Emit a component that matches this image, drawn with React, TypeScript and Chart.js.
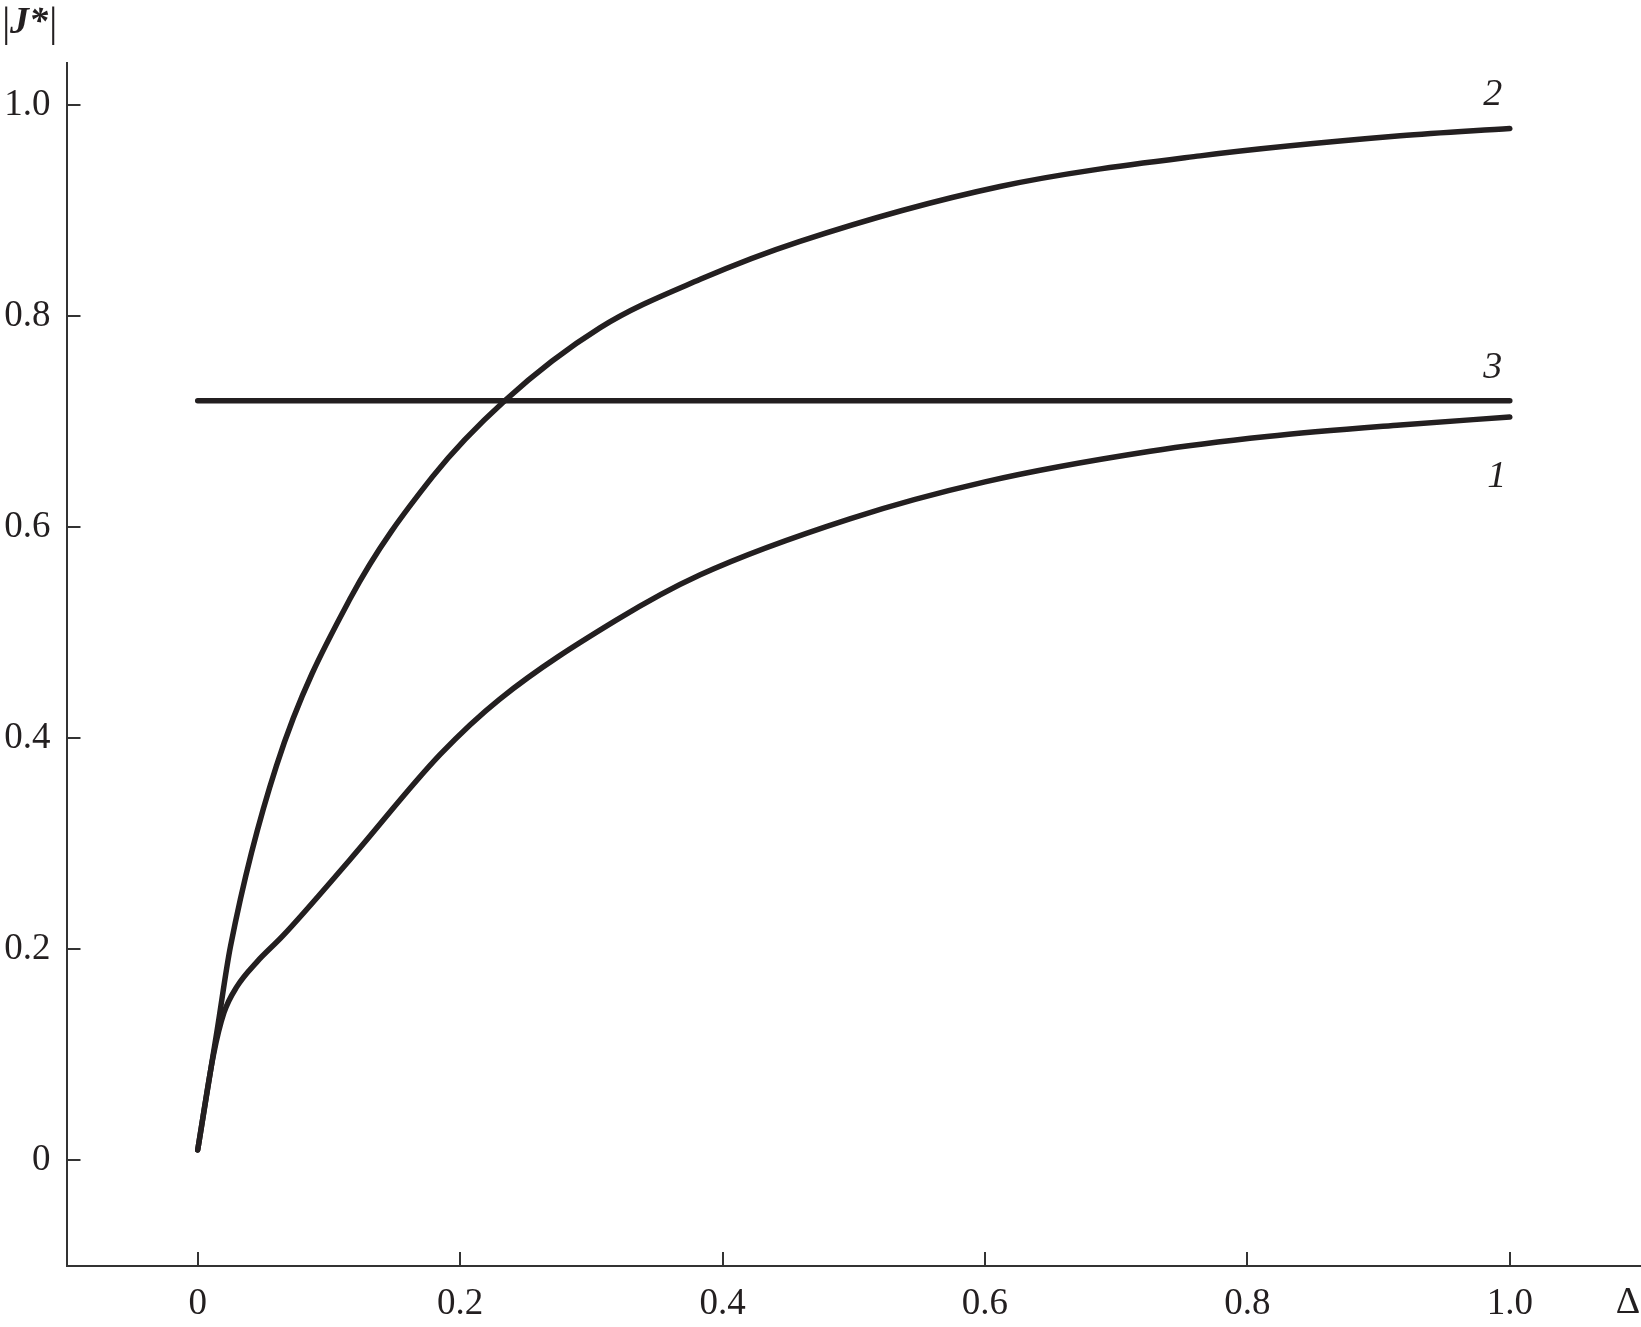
import React, { useEffect, useRef } from "react";
import { Chart, registerables } from "chart.js";

Chart.register(...registerables);

// ---- data ----
const xTickValues = [0, 0.2, 0.4, 0.6, 0.8, 1.0];
const xTickLabels = ["0", "0.2", "0.4", "0.6", "0.8", "1.0"];
const yTickValues = [0, 0.2, 0.4, 0.6, 0.8, 1.0];
const yTickLabels = ["0", "0.2", "0.4", "0.6", "0.8", "1.0"];

const curve1X = [0, 0.012, 0.02, 0.03, 0.045, 0.065, 0.116, 0.185, 0.23, 0.319, 0.383, 0.497, 0.6, 0.726, 0.815, 0.9165, 1.0];
const curve1Y = [0.01, 0.1, 0.14, 0.165, 0.188, 0.213, 0.285, 0.385, 0.437, 0.512, 0.555, 0.608, 0.643, 0.672, 0.686, 0.697, 0.7045];

const curve2X = [0, 0.015, 0.025, 0.06, 0.116, 0.179, 0.234, 0.3065, 0.383, 0.459, 0.6115, 0.764, 0.9165, 1.0];
const curve2Y = [0.01, 0.125, 0.203, 0.374, 0.532, 0.648, 0.72, 0.789, 0.835, 0.871, 0.923, 0.952, 0.971, 0.978];

const curve3X = [0, 1.0];
const curve3Y = [0.72, 0.72];

const curveNames = ["1", "2", "3"];
const curveLabelX = [0.99, 0.987, 0.987];
const curveLabelY = [0.648, 1.01, 0.751];

const xAxisTitle = "Δ";
const yAxisTitle = "J*";

const LINE = "#231f20";
const AXIS = "#333333";
const SERIF = "'Liberation Serif', 'DejaVu Serif', serif";

const toPoints = (xs: number[], ys: number[]) => xs.map((x, i) => ({ x, y: ys[i] }));

export default function App() {
  const ref = useRef<HTMLCanvasElement | null>(null);

  useEffect(() => {
    document.body.style.margin = "0";
    const canvas = ref.current;
    if (!canvas) return;

    const annotations = {
      id: "annotations",
      afterDraw(chart: any) {
        const ctx = chart.ctx;
        const xs = chart.scales.x;
        const ys = chart.scales.y;
        const area = chart.chartArea;
        ctx.save();
        // inward tick marks
        ctx.strokeStyle = AXIS;
        ctx.lineWidth = 2;
        ctx.lineCap = "butt";
        xTickValues.forEach((v) => {
          const px = Math.round(xs.getPixelForValue(v));
          ctx.beginPath();
          ctx.moveTo(px, area.bottom);
          ctx.lineTo(px, area.bottom - 14);
          ctx.stroke();
        });
        yTickValues.forEach((v) => {
          const py = Math.round(ys.getPixelForValue(v));
          ctx.beginPath();
          ctx.moveTo(area.left, py);
          ctx.lineTo(area.left + 14, py);
          ctx.stroke();
        });
        // curve labels
        ctx.fillStyle = LINE;
        ctx.font = `italic 38px ${SERIF}`;
        ctx.textAlign = "center";
        ctx.textBaseline = "middle";
        curveNames.forEach((n, i) => {
          ctx.fillText(n, xs.getPixelForValue(curveLabelX[i]), ys.getPixelForValue(curveLabelY[i]));
        });
        // x-axis title
        ctx.font = `38px ${SERIF}`;
        ctx.textAlign = "center";
        ctx.textBaseline = "alphabetic";
        ctx.fillText(xAxisTitle, 1628, area.bottom + 47);
        // y-axis title |J*|
        ctx.textAlign = "left";
        ctx.font = `42px ${SERIF}`;
        ctx.fillText("|", 2, 36);
        ctx.font = `italic bold 38px ${SERIF}`;
        ctx.fillText(yAxisTitle, 10, 33);
        const w = ctx.measureText(yAxisTitle).width;
        ctx.font = `42px ${SERIF}`;
        ctx.fillText("|", 10 + w + 1, 36);
        ctx.restore();
      },
    };

    const common = {
      borderColor: LINE,
      borderWidth: 5.5,
      pointRadius: 0,
      fill: false,
      borderCapStyle: "round" as const,
      borderJoinStyle: "round" as const,
      cubicInterpolationMode: "monotone" as const,
    };

    const chart = new Chart(canvas, {
      type: "line",
      data: {
        datasets: [
          { label: curveNames[0], data: toPoints(curve1X, curve1Y), ...common },
          { label: curveNames[1], data: toPoints(curve2X, curve2Y), ...common },
          { label: curveNames[2], data: toPoints(curve3X, curve3Y), ...common, tension: 0 },
        ],
      },
      options: {
        animation: false,
        responsive: false,
        devicePixelRatio: 1,
        layout: { padding: { top: 63, right: 0, left: 0, bottom: 0 } },
        plugins: { legend: { display: false }, tooltip: { enabled: false }, title: { display: false } },
        scales: {
          x: {
            type: "linear",
            min: -0.1,
            max: 1.1,
            grid: { display: false, drawTicks: false },
            border: { display: true, color: AXIS, width: 2 },
            afterBuildTicks: (s: any) => {
              s.ticks = xTickValues.map((v) => ({ value: v }));
            },
            afterFit: (s: any) => {
              s.height = 61;
            },
            ticks: {
              autoSkip: false,
              maxRotation: 0,
              padding: 20,
              color: "#231f20",
              font: { family: SERIF, size: 37, lineHeight: 1 },
              callback: (v: any) => {
                const i = xTickValues.findIndex((t) => Math.abs(t - v) < 1e-9);
                return i >= 0 ? xTickLabels[i] : "";
              },
            },
          },
          y: {
            type: "linear",
            min: -0.1,
            max: 1.04,
            grid: { display: false, drawTicks: false },
            border: { display: true, color: AXIS, width: 2 },
            afterBuildTicks: (s: any) => {
              s.ticks = yTickValues.map((v) => ({ value: v }));
            },
            afterFit: (s: any) => {
              s.width = 66.5;
            },
            ticks: {
              autoSkip: false,
              padding: 16,
              color: "#231f20",
              font: { family: SERIF, size: 37, lineHeight: 1 },
              callback: (v: any) => {
                const i = yTickValues.findIndex((t) => Math.abs(t - v) < 1e-9);
                return i >= 0 ? yTickLabels[i] : "";
              },
            },
          },
        },
      },
      plugins: [annotations],
    });

    return () => chart.destroy();
  }, []);

  return (
    <div style={{ position: "absolute", left: 0, top: 0, width: 1641, height: 1327, background: "#fff" }}>
      <canvas ref={ref} width={1641} height={1327} style={{ width: 1641, height: 1327, display: "block" }} />
    </div>
  );
}
